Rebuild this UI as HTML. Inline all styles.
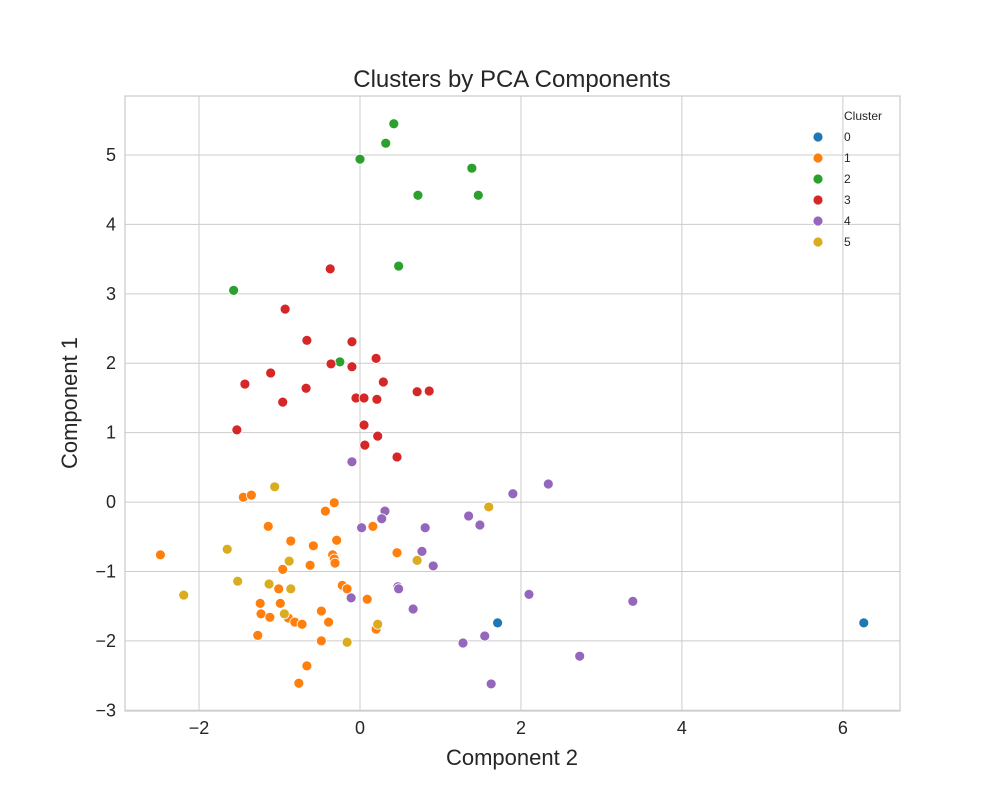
<!DOCTYPE html>
<html><head><meta charset="utf-8"><style>
body{margin:0;background:#fff;font-family:"Liberation Sans",sans-serif}
svg text{font-family:"Liberation Sans",sans-serif;fill:#262626}
</style></head><body>
<svg id="chart" width="1000" height="800">
<g id="grid"></g>
<g id="pts"></g>
<g id="ticks"></g>
<text x="512" y="87" text-anchor="middle" font-size="24">Clusters by PCA Components</text>
<text x="512" y="765" text-anchor="middle" font-size="22">Component 2</text>
<text transform="translate(77,403) rotate(-90)" text-anchor="middle" font-size="22">Component 1</text>
<g id="legend"></g>
</svg>
<script>
const xTicks=[-2,0,2,4,6];
const yTicks=[-3,-2,-1,0,1,2,3,4,5];
const colors=["#1f77b4","#ff7f0e","#2ca02c","#d62728","#9467bd","#dbab20"];
const c0x=[1.71,6.26];const c0y=[-1.74,-1.74];
const c1x=[-1.45,-1.35,-0.32,-0.43,-1.14,0.16,-0.86,-0.58,-0.29,-2.48,-0.34,-0.32,-0.31,0.46,-0.62,-0.96,-1.01,-0.22,-0.16,0.09,-1.24,-0.99,-1.23,-1.12,-0.89,-0.81,-0.72,-0.48,-0.39,-1.27,-0.48,0.20,-0.66,-0.76];
const c1y=[0.07,0.10,-0.01,-0.13,-0.35,-0.35,-0.56,-0.63,-0.55,-0.76,-0.76,-0.82,-0.88,-0.73,-0.91,-0.97,-1.25,-1.20,-1.25,-1.40,-1.46,-1.46,-1.61,-1.66,-1.67,-1.73,-1.76,-1.57,-1.73,-1.92,-2.00,-1.83,-2.36,-2.61];
const c2x=[0.42,0.32,0.0,1.39,0.72,1.47,0.48,-1.57,-0.25];
const c2y=[5.45,5.17,4.94,4.81,4.42,4.42,3.40,3.05,2.02];
const c3x=[-0.37,-0.93,-0.66,-0.10,-0.36,0.20,-0.10,-1.11,0.29,-1.43,-0.67,0.71,0.86,-0.05,0.05,0.21,-0.96,-1.53,0.05,0.22,0.06,0.46];
const c3y=[3.36,2.78,2.33,2.31,1.99,2.07,1.95,1.86,1.73,1.70,1.64,1.59,1.60,1.50,1.50,1.48,1.44,1.04,1.11,0.95,0.82,0.65];
const c4x=[-0.10,2.34,1.90,0.31,1.35,0.27,1.49,0.02,0.81,0.77,0.91,0.47,0.48,-0.11,2.10,3.39,0.66,1.55,1.28,2.73,1.63];
const c4y=[0.58,0.26,0.12,-0.13,-0.20,-0.24,-0.33,-0.37,-0.37,-0.71,-0.92,-1.22,-1.25,-1.38,-1.33,-1.43,-1.54,-1.93,-2.03,-2.22,-2.62];
const c5x=[-1.06,-1.65,-0.88,0.71,-2.19,-1.52,-1.13,-0.86,-0.94,-0.16,0.22,1.60];
const c5y=[0.22,-0.68,-0.85,-0.84,-1.34,-1.14,-1.18,-1.25,-1.61,-2.02,-1.76,-0.07];
const clusters=[[c0x,c0y],[c1x,c1y],[c2x,c2y],[c3x,c3y],[c4x,c4y],[c5x,c5y]];
const L=125,R=900,T=96,B=711,xmin=-2.92,xmax=6.71,ymin=-3.01,ymax=5.85;
const sx=v=>L+(v-xmin)/(xmax-xmin)*(R-L);
const sy=v=>B-(v-ymin)/(ymax-ymin)*(B-T);
const NS="http://www.w3.org/2000/svg";
function mk(t,a,p){const e=document.createElementNS(NS,t);for(const k in a)e.setAttribute(k,a[k]);p.appendChild(e);return e;}
const grid=document.getElementById('grid'),tk=document.getElementById('ticks'),pts=document.getElementById('pts'),lg=document.getElementById('legend');
mk('rect',{x:L,y:T,width:R-L,height:B-T,fill:'#fff',stroke:'#cccccc','stroke-width':1.25},grid);
xTicks.forEach(v=>{const l=mk('line',{x1:sx(v),x2:sx(v),y1:T,y2:B,stroke:'#cccccc','stroke-width':1},grid);

const t=mk('text',{x:sx(v),y:B+23,'text-anchor':'middle','font-size':18},tk);t.textContent=(v<0?'\u2212'+(-v):v);
});
yTicks.forEach(v=>{const l=mk('line',{x1:L,x2:R,y1:sy(v),y2:sy(v),stroke:'#cccccc','stroke-width':1},grid);

const t=mk('text',{x:L-9,y:sy(v)+6,'text-anchor':'end','font-size':18},tk);t.textContent=(v<0?'\u2212'+(-v):v);
});
clusters.forEach((c,i)=>{c[0].forEach((x,j)=>{const p=mk('circle',{cx:sx(x),cy:sy(c[1][j]),r:5,fill:colors[i],stroke:'#fff','stroke-width':0.8},pts);
});});
const lt=mk('text',{x:844,y:120,'font-size':12},lg);lt.textContent='Cluster';

colors.forEach((c,i)=>{const y=137+i*21;
const d=mk('circle',{cx:818,cy:y,r:5,fill:c,stroke:'#fff','stroke-width':0.8},lg);

const t=mk('text',{x:844,y:y+4,'font-size':12},lg);t.textContent=i;
});
</script>
</body></html>
